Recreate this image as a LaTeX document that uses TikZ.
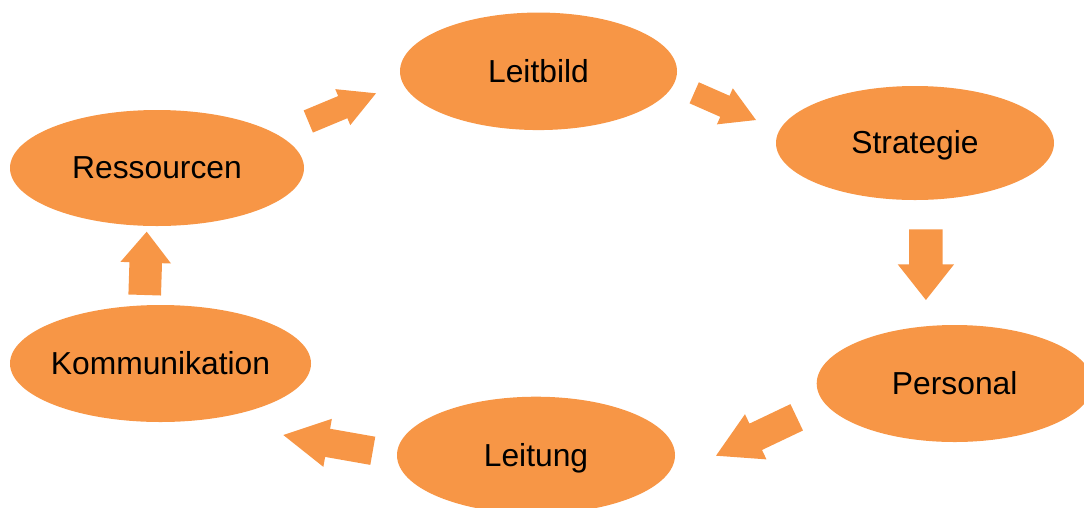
\documentclass[tikz,border=0pt]{standalone}
\usepackage{fontspec}
\setmainfont{Liberation Sans}
\usetikzlibrary{shapes.geometric,calc}
\definecolor{cycleorange}{HTML}{F79646}
\tikzset{
  phase/.style={ellipse, fill=cycleorange, draw=none, inner sep=0pt,
    font=\fontsize{31.8}{38}\selectfont, text=black},
  arrowfill/.style={fill=cycleorange, draw=none}
}
% zero-width label with cap-height box, so the ellipse keeps its size
% and the capitals sit centred in it
\newcommand\phasetext[1]{\makebox[0pt]{\vphantom{L}\smash{#1}}}
% block arrow: tail, tip, shaft half-width, head half-width, head length
\newcommand\blockarrow[5]{%
  \coordinate (ba-h) at ($(#2)!#5!(#1)$);
  \fill[arrowfill] ($(#1)!#3!90:(#2)$) -- ($(ba-h)!#3!-90:(#1)$)
    -- ($(ba-h)!#4!-90:(#1)$) -- (#2) -- ($(ba-h)!#4!90:(#1)$)
    -- ($(ba-h)!#3!90:(#1)$) -- ($(#1)!#3!-90:(#2)$) -- cycle;
}
\begin{document}
\begin{tikzpicture}[x=1pt,y=-1pt]
  \useasboundingbox (0,0) rectangle (1084,507);
  \clip (0,0) rectangle (1084,507);

  \node[phase, minimum width=277pt, minimum height=117.5pt] (leitbild) at (538.5,71.3) {\phasetext{Leitbild}};
  \node[phase, minimum width=278pt, minimum height=114pt] (strategie) at (915,143) {\phasetext{Strategie}};
  \node[phase, minimum width=276pt, minimum height=117pt] (personal) at (954.7,383.5) {\phasetext{Personal}};
  \node[phase, minimum width=278pt, minimum height=117pt] (leitung) at (536,455.2) {\phasetext{Leitung}};
  \node[phase, minimum width=301pt, minimum height=117pt] (kommunikation) at (160.5,363.5) {\phasetext{Kommunikation}};
  \node[phase, minimum width=294pt, minimum height=116pt] (ressourcen) at (157,168) {\phasetext{Ressourcen}};

  % arrow end points between the phases
  \coordinate (a1s) at (308.3,121.5); \coordinate (a1e) at (376,93.3);
  \coordinate (a2s) at (694.2,92.8);  \coordinate (a2e) at (756,120);
  \coordinate (a3s) at (925.9,229.3); \coordinate (a3e) at (925.9,300);
  \coordinate (a4s) at (796.7,417.3); \coordinate (a4e) at (716,455.7);
  \coordinate (a5s) at (372.8,450.8); \coordinate (a5e) at (283.3,435);
  \coordinate (a6s) at (144.7,295);   \coordinate (a6e) at (146.7,231.7);

  \blockarrow{a1s}{a1e}{12pt}{19.5pt}{36pt}
  \blockarrow{a2s}{a2e}{11.5pt}{19.7pt}{34pt}
  \blockarrow{a3s}{a3e}{16.8pt}{28.2pt}{35.7pt}
  \blockarrow{a4s}{a4e}{14.6pt}{25pt}{44pt}
  \blockarrow{a5s}{a5e}{14.3pt}{24.4pt}{45pt}
  \blockarrow{a6s}{a6e}{16.3pt}{25.3pt}{31pt}
\end{tikzpicture}
\end{document}
